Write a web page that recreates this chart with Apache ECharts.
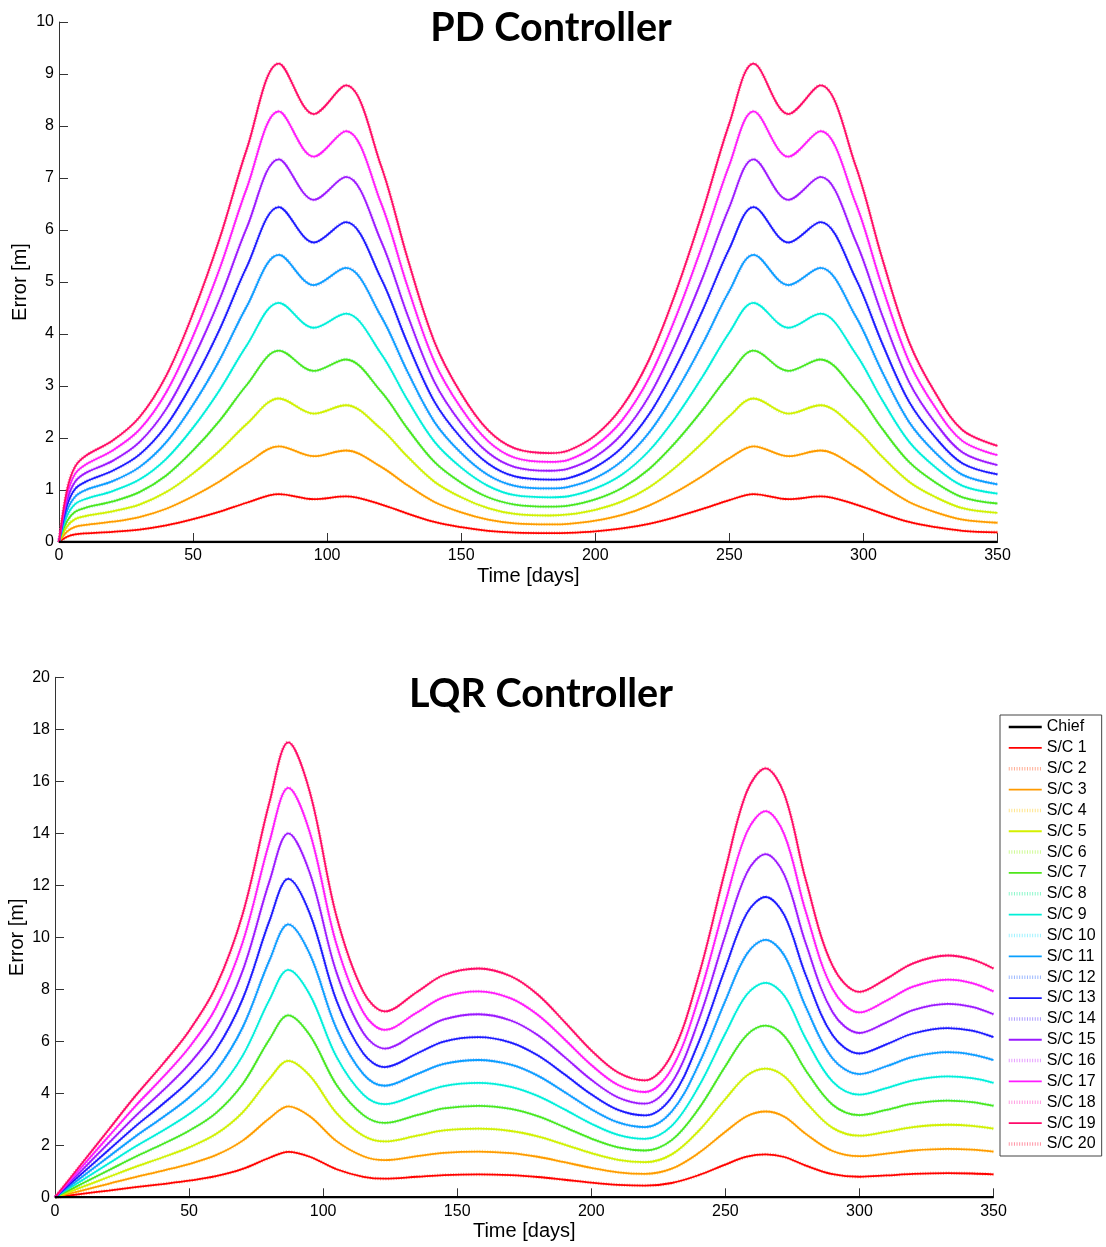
<!DOCTYPE html>
<html><head><meta charset="utf-8">
<script src="https://cdn.jsdelivr.net/npm/echarts@6/dist/echarts.min.js"></script>
<style>html,body{margin:0;padding:0;background:#fff}#c{width:1106px;height:1247px}</style>
</head><body><div id="c"></div>
<script>
const pdDays = [0,3,6,10,20,30,40,50,60,70,82,95,107,120,130,140,150,160,170,183,190,200,210,220,230,240,250,259,272,284,297,307,317,327,337,350];
const pd1 = [0,0.1,0.145,0.166,0.195,0.24,0.32,0.44,0.585,0.755,0.92,0.823,0.878,0.725,0.545,0.385,0.285,0.215,0.18,0.171,0.176,0.205,0.26,0.35,0.48,0.635,0.805,0.92,0.823,0.878,0.725,0.545,0.385,0.285,0.215,0.185];
const pd2 = [0,0.2,0.29,0.33,0.39,0.48,0.64,0.88,1.17,1.51,1.84,1.65,1.76,1.45,1.09,0.77,0.57,0.43,0.36,0.34,0.35,0.41,0.52,0.7,0.96,1.27,1.61,1.84,1.65,1.76,1.45,1.09,0.77,0.57,0.43,0.37];
const pd3 = [0,0.3,0.44,0.5,0.59,0.72,0.96,1.32,1.76,2.27,2.76,2.47,2.63,2.18,1.64,1.16,0.86,0.65,0.54,0.51,0.53,0.62,0.78,1.05,1.44,1.91,2.42,2.76,2.47,2.63,2.18,1.64,1.16,0.86,0.65,0.56];
const pd4 = [0,0.4,0.58,0.66,0.78,0.96,1.28,1.76,2.34,3.02,3.68,3.29,3.51,2.9,2.18,1.54,1.14,0.86,0.72,0.68,0.7,0.82,1.04,1.4,1.92,2.54,3.22,3.68,3.29,3.51,2.9,2.18,1.54,1.14,0.86,0.74];
const pd5 = [0,0.5,0.73,0.83,0.98,1.2,1.6,2.2,2.93,3.78,4.6,4.12,4.39,3.63,2.73,1.93,1.43,1.08,0.9,0.86,0.88,1.03,1.3,1.75,2.4,3.18,4.03,4.6,4.12,4.39,3.63,2.73,1.93,1.43,1.08,0.93];
const pd6 = [0,0.6,0.87,1.0,1.17,1.44,1.92,2.64,3.51,4.53,5.52,4.94,5.27,4.35,3.27,2.31,1.71,1.29,1.08,1.03,1.06,1.23,1.56,2.1,2.88,3.81,4.83,5.52,4.94,5.27,4.35,3.27,2.31,1.71,1.29,1.11];
const pd7 = [0,0.7,1.02,1.16,1.37,1.68,2.24,3.08,4.1,5.29,6.44,5.76,6.15,5.08,3.82,2.7,2.0,1.51,1.26,1.2,1.23,1.44,1.82,2.45,3.36,4.45,5.64,6.44,5.76,6.15,5.08,3.82,2.7,2.0,1.51,1.3];
const pd8 = [0,0.8,1.16,1.33,1.56,1.92,2.56,3.52,4.68,6.04,7.36,6.58,7.02,5.8,4.36,3.08,2.28,1.72,1.44,1.37,1.41,1.64,2.08,2.8,3.84,5.08,6.44,7.36,6.58,7.02,5.8,4.36,3.08,2.28,1.72,1.48];
const pd9 = [0,0.9,1.31,1.49,1.76,2.16,2.88,3.96,5.27,6.8,8.28,7.41,7.9,6.53,4.91,3.47,2.57,1.94,1.62,1.54,1.58,1.85,2.34,3.15,4.32,5.72,7.25,8.28,7.41,7.9,6.53,4.91,3.47,2.57,1.94,1.67];
const pd10 = [0,1.0,1.45,1.66,1.95,2.40,3.20,4.40,5.85,7.55,9.20,8.23,8.78,7.25,5.45,3.85,2.85,2.15,1.80,1.71,1.76,2.05,2.60,3.50,4.80,6.35,8.05,9.20,8.23,8.78,7.25,5.45,3.85,2.85,2.15,1.85];

const lqDays = [0,10,20,30,40,50,60,70,80,87,95,105,115,123,135,145,158,170,180,190,200,210,220,230,240,250,258,265,272,280,290,300,310,320,333,342,350];
const lq1 = [0,0.13,0.26,0.39,0.51,0.64,0.81,1.09,1.52,1.75,1.56,1.08,0.79,0.715,0.79,0.855,0.88,0.85,0.78,0.675,0.565,0.48,0.45,0.55,0.85,1.26,1.56,1.65,1.55,1.22,0.89,0.79,0.84,0.9,0.93,0.915,0.88];
const lq2 = [0,0.26,0.52,0.78,1.02,1.28,1.62,2.18,3.04,3.5,3.12,2.16,1.58,1.43,1.58,1.71,1.76,1.7,1.56,1.35,1.13,0.96,0.9,1.1,1.7,2.52,3.12,3.3,3.1,2.44,1.78,1.58,1.68,1.8,1.86,1.83,1.76];
const lq3 = [0,0.39,0.78,1.17,1.53,1.92,2.43,3.27,4.56,5.25,4.68,3.24,2.37,2.15,2.37,2.57,2.64,2.55,2.34,2.03,1.7,1.44,1.35,1.65,2.55,3.78,4.68,4.95,4.65,3.66,2.67,2.37,2.52,2.7,2.79,2.75,2.64];
const lq4 = [0,0.52,1.04,1.56,2.04,2.56,3.24,4.36,6.08,7.0,6.24,4.32,3.16,2.86,3.16,3.42,3.52,3.4,3.12,2.7,2.26,1.92,1.8,2.2,3.4,5.04,6.24,6.6,6.2,4.88,3.56,3.16,3.36,3.6,3.72,3.66,3.52];
const lq5 = [0,0.65,1.3,1.95,2.55,3.2,4.05,5.45,7.6,8.75,7.8,5.4,3.95,3.58,3.95,4.28,4.4,4.25,3.9,3.38,2.83,2.4,2.25,2.75,4.25,6.3,7.8,8.25,7.75,6.1,4.45,3.95,4.2,4.5,4.65,4.58,4.4];
const lq6 = [0,0.78,1.56,2.34,3.06,3.84,4.86,6.54,9.12,10.5,9.36,6.48,4.74,4.29,4.74,5.13,5.28,5.1,4.68,4.05,3.39,2.88,2.7,3.3,5.1,7.56,9.36,9.9,9.3,7.32,5.34,4.74,5.04,5.4,5.58,5.49,5.28];
const lq7 = [0,0.91,1.82,2.73,3.57,4.48,5.67,7.63,10.64,12.25,10.92,7.56,5.53,5.01,5.53,5.99,6.16,5.95,5.46,4.73,3.96,3.36,3.15,3.85,5.95,8.82,10.92,11.55,10.85,8.54,6.23,5.53,5.88,6.3,6.51,6.41,6.16];
const lq8 = [0,1.04,2.08,3.12,4.08,5.12,6.48,8.72,12.16,14.0,12.48,8.64,6.32,5.72,6.32,6.84,7.04,6.8,6.24,5.4,4.52,3.84,3.6,4.4,6.8,10.08,12.48,13.2,12.4,9.76,7.12,6.32,6.72,7.2,7.44,7.32,7.04];
const lq9 = [0,1.17,2.34,3.51,4.59,5.76,7.29,9.81,13.68,15.75,14.04,9.72,7.11,6.44,7.11,7.7,7.92,7.65,7.02,6.08,5.09,4.32,4.05,4.95,7.65,11.34,14.04,14.85,13.95,10.98,8.01,7.11,7.56,8.1,8.37,8.24,7.92];
const lq10 = [0,1.3,2.6,3.9,5.1,6.4,8.1,10.9,15.2,17.5,15.6,10.8,7.9,7.15,7.9,8.55,8.8,8.5,7.8,6.75,5.65,4.8,4.5,5.5,8.5,12.6,15.6,16.5,15.5,12.2,8.9,7.9,8.4,9.0,9.3,9.15,8.8];

const chiefDays = [0, 350];
const chiefVals = [0, 0];
const scNames = ['S/C 1','S/C 2','S/C 3','S/C 4','S/C 5','S/C 6','S/C 7','S/C 8','S/C 9','S/C 10','S/C 11','S/C 12','S/C 13','S/C 14','S/C 15','S/C 16','S/C 17','S/C 18','S/C 19','S/C 20'];
const scColors = ['#ff0000','#ff6a3d','#ff9a00','#ffcf30','#d4f000','#a6f53a','#4ee61a','#30f0a0','#00f0d8','#50e8ff','#0aa0ff','#4a7dff','#1a1aff','#6a4dff','#9a1aff','#d24dff','#ff1aff','#ff4dc8','#ff0a6a','#ff3a5a'];
const xTicks = [0,50,100,150,200,250,300,350];

const pdCurves = [pd1,pd2,pd3,pd4,pd5,pd6,pd7,pd8,pd9,pd10];
const lqCurves = [lq1,lq2,lq3,lq4,lq5,lq6,lq7,lq8,lq9,lq10];

function pairs(xs, ys){ return xs.map((x,i)=>[x, ys[i]]); }
const series = [];
function addChart(idx, days, curves){
  series.push({name:'Chief', type:'line', xAxisIndex:idx, yAxisIndex:idx, data:pairs(chiefDays, chiefVals),
    symbol:'none', color:'#000', itemStyle:{opacity:0}, lineStyle:{color:'#000', width:2.5}, z:5, silent:true});
  for (let k=0;k<20;k++){
    const curve = curves[Math.floor(k/2)];
    const dotted = k%2===1;
    series.push({name:scNames[k], type:'line', xAxisIndex:idx, yAxisIndex:idx, data:pairs(days, curve),
      smooth:0.35, symbol:'none', color:scColors[k], itemStyle:{opacity:0}, silent:true,
      lineStyle: dotted ? {color:scColors[k], width:3.5, type:[1,1.6], opacity:0.55} : {color:scColors[k], width:1.8},
      z: dotted ? 2 : 3});
  }
}
addChart(0, pdDays, pdCurves);
addChart(1, lqDays, lqCurves);

const axisFont = {fontFamily:'Liberation Sans', fontSize:16, color:'#000'};
function xAxis(idx){
  return {type:'value', gridIndex:idx, min:0, max:350, interval:50,
    name:'Time [days]', nameLocation:'middle', nameGap:24, nameMoveOverlap:false,
    nameTextStyle:{fontFamily:'Liberation Sans', fontSize:20, color:'#000'},
    axisLine:{lineStyle:{color:'#333', width:1}}, axisTick:{inside:true, length:9, lineStyle:{color:'#333'}},
    axisLabel:Object.assign({margin:6}, axisFont), splitLine:{show:false}};
}
function yAxis(idx, max, interval, gap){
  return {type:'value', gridIndex:idx, min:0, max:max, interval:interval,
    name:'Error [m]', nameLocation:'middle', nameGap:gap, nameMoveOverlap:false,
    nameTextStyle:{fontFamily:'Liberation Sans', fontSize:20, color:'#000'},
    axisLine:{show:true, lineStyle:{color:'#333', width:1}}, axisTick:{show:true, inside:true, length:9, lineStyle:{color:'#333'}},
    axisLabel:Object.assign({margin:5}, axisFont), splitLine:{show:false}};
}

const chart = echarts.init(document.getElementById('c'), null, {renderer:'canvas'});
chart.setOption({
  animation:false,
  backgroundColor:'#fff',
  title:[
    {text:'PD Controller', left:546, top:3, textAlign:'center', textStyle:{fontFamily:'Lato', fontWeight:'bold', fontSize:39.5, color:'#000'}},
    {text:'LQR Controller', left:536, top:669, textAlign:'center', textStyle:{fontFamily:'Lato', fontWeight:'bold', fontSize:39.5, color:'#000'}}
  ],
  grid:[
    {left:59, top:22, width:938.5, height:520, containLabel:false, outerBoundsMode:'none'},
    {left:55, top:677.3, width:938.5, height:520, containLabel:false, outerBoundsMode:'none'}
  ],
  xAxis:[xAxis(0), xAxis(1)],
  yAxis:[yAxis(0,10,1,29), yAxis(1,20,2,28)],
  legend:{orient:'vertical', left:1000, top:715, itemWidth:33, itemHeight:14, itemGap:4.85,
    padding:[4,6,4,7], borderColor:'#444', borderWidth:1, backgroundColor:'#fff',
    itemStyle:{opacity:0}, lineStyle:{width:'inherit'},
    textStyle:{fontFamily:'Liberation Sans', fontSize:16, lineHeight:16, color:'#000'},
    data:['Chief'].concat(scNames)},
  series:series
});
</script></body></html>
